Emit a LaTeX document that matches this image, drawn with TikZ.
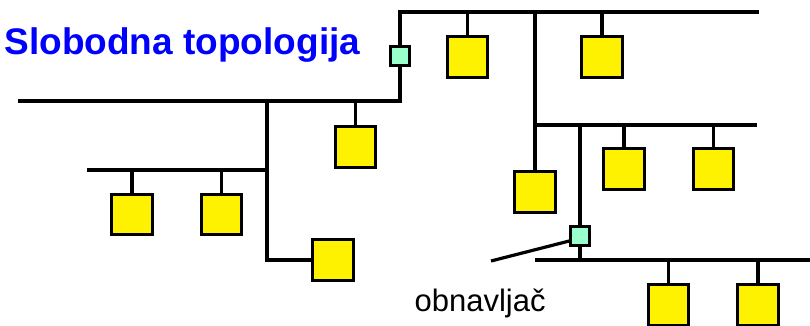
\documentclass[tikz,border=0pt]{standalone}
\usepackage{fontspec}
\setmainfont{Liberation Sans}
\usetikzlibrary{positioning, calc}
\definecolor{mint}{RGB}{153,255,204}

\begin{document}
\begin{tikzpicture}[x=1pt, y=-1pt, line width=3.2pt,
    station/.style={draw, fill=yellow, minimum size=40.5pt, inner sep=0pt, line width=3pt},
    repeater/.style={draw, fill=mint, minimum size=19pt, inner sep=0pt, line width=2.5pt}]
  \useasboundingbox (0,0) rectangle (810,326);

  % title
  \node (title) [anchor=base west, inner sep=0pt, text=blue, font=\fontsize{37}{40}\selectfont\bfseries]
    at (3,55) {Slobodna topologija};

  % bus ends
  \coordinate (topR) at (759,12);
  \coordinate (mainL) at (18,101);
  \coordinate (j1) at (267,101);
  \coordinate (leftL) at (87,170);
  \coordinate (midR) at (757,125);
  \coordinate (botL) at (535,260);
  \coordinate (botR) at (810,260);
  \coordinate (ptr) at (491,261);

  % repeaters
  \node (rep1) [repeater] at (400,56) {};
  \node (rep2) [repeater] at (580,236) {};

  % stations
  \node (s1) [station] at (467.5,57) {};
  \node (s2) [station] at (602,57) {};
  \node (s3) [station] at (355.5,147) {};
  \node (s4) [station] at (132,214.5) {};
  \node (s5) [station] at (221.5,214.5) {};
  \node (s6) [station] at (333,260) {};
  \node (s7) [station] at (535,192) {};
  \node (s8) [station] at (624,169) {};
  \node (s9) [station] at (713.5,169) {};
  \node (s10) [station] at (668.5,305) {};
  \node (s11) [station] at (758,305) {};

  % buses
  \draw (rep1.north) |- (topR);
  \draw (rep1.south) |- (mainL);
  \draw (j1) |- (s6.west);
  \draw (leftL) -- (j1 |- leftL);
  \draw (s7.north |- topR) -- (s7.north);
  \draw (s7.north |- midR) -- (midR);
  \draw (rep2.north) -- (rep2.north |- midR);
  \draw (rep2.south) -- (rep2.south |- botR);
  \draw (botL) -- (botR);

  % drops
  \foreach \s/\bus in {s1/topR, s2/topR, s3/mainL, s4/leftL, s5/leftL, s8/midR, s9/midR, s10/botR, s11/botR}
    \draw (\s.north) -- (\s.north |- \bus);

  % label
  \draw ([yshift=-5pt]rep2.west) -- (ptr);
  \node (lbl) [anchor=base west, inner sep=0pt, font=\fontsize{31}{34}\selectfont]
    at (413,311.5) {obnavljač};
\end{tikzpicture}
\end{document}
